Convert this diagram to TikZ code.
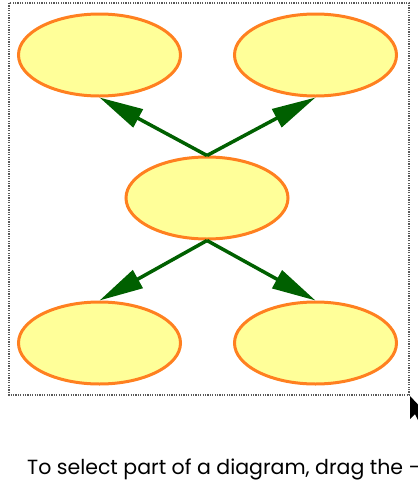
\documentclass[tikz,border=0pt]{standalone}
\usepackage{fontspec}
\setmainfont{Poppins}
\usetikzlibrary{shapes.geometric,arrows.meta}
\definecolor{bubblefill}{RGB}{255,255,153}
\definecolor{bubbleline}{RGB}{255,128,32}
\definecolor{linkgreen}{RGB}{0,96,0}

\begin{document}
\begin{tikzpicture}[x=1pt, y=-1pt,
    bubble/.style={draw=bubbleline, fill=bubblefill, ellipse, line width=3pt, minimum width=162pt, minimum height=82pt, inner sep=0pt},
    link/.style={draw=linkgreen, line width=3.5pt, -{Triangle[length=44pt,width=20pt]}}]
    \useasboundingbox (0,0) rectangle (418,480);
    \clip (0,0) rectangle (418,480);
    % selection frame
    \draw[black!65, line width=1.2pt, dash pattern=on 1.2pt off 1.2pt] (9,3) rectangle (409,395);
    \node[bubble] (topleft) at (99.5,55) {};
    \node[bubble] (topright) at (315.5,55) {};
    \node[bubble] (centre) at (207,198) {};
    \node[bubble] (botleft) at (99.5,343) {};
    \node[bubble] (botright) at (315.5,343) {};
    \draw[link] (centre.north) -- (topleft.south);
    \draw[link] (centre.north) -- (topright.south);
    \draw[link] (centre.south) -- (botleft.north);
    \draw[link] (centre.south) -- (botright.north);
    % mouse pointer
    \fill[black] (410,396) -- (410,419) -- (415,414) -- (419,422) -- (422,420) -- (418,412) -- (425,412) -- cycle;
    \node[anchor=base west, inner sep=0pt, font=\fontsize{20.5}{24}\selectfont] (hint) at (27,474) {To select part of a diagram, drag the —};
\end{tikzpicture}
\end{document}
